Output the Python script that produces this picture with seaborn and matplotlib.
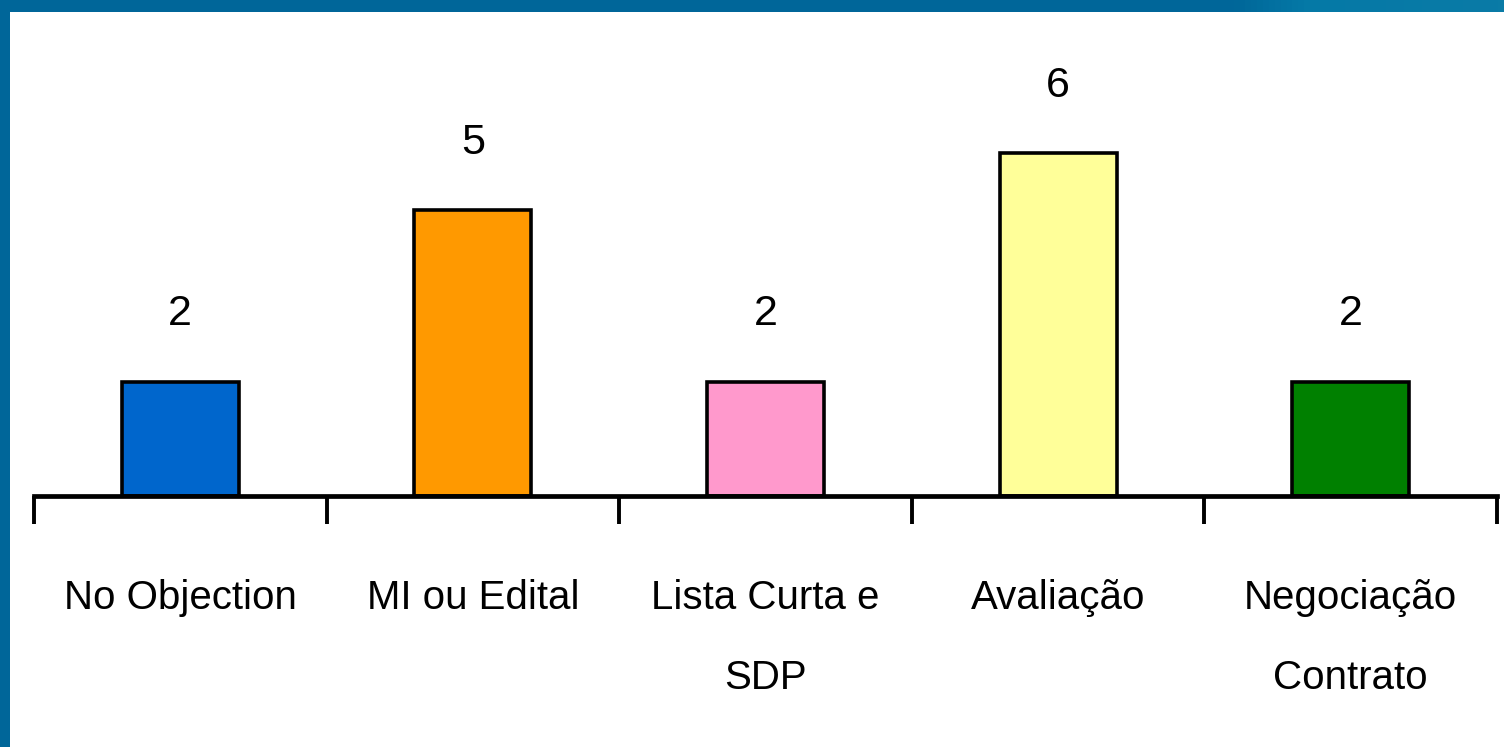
import numpy as np
import matplotlib
matplotlib.use("Agg")
import matplotlib.pyplot as plt
import seaborn as sns
import pandas as pd
from matplotlib.colors import LinearSegmentedColormap

categories = ["No Objection", "MI ou Edital", "Lista Curta e\nSDP", "Avaliação", "Negociação\nContrato"]
values = [2, 5, 2, 6, 2]
bar_colors = ["#0066CC", "#FF9900", "#FF99CC", "#FFFF99", "#008000"]

sns.set_theme(style="white")
FONT = ["Liberation Sans Narrow", "Liberation Sans", "DejaVu Sans"]
plt.rcParams["font.family"] = FONT

W, H, DPI = 1504, 747, 100
fig = plt.figure(figsize=(W / DPI, H / DPI), dpi=DPI)
fig.patch.set_facecolor("white")

# decorative frame: top band with gradient and left band
band = fig.add_axes([0, 1 - 12 / H, 1, 12 / H])
cmap = LinearSegmentedColormap.from_list(
    "band", [(0, "#006699"), (0.82, "#006699"), (0.87, "#0579A6"), (1, "#0A7BA6")])
band.imshow(np.linspace(0, 1, 256)[None, :], aspect="auto", cmap=cmap)
band.set_axis_off()
left = fig.add_axes([0, 0, 10 / W, 1 - 12 / H])
left.set_facecolor("#006699")
left.set_xticks([]); left.set_yticks([])
for s in left.spines.values():
    s.set_visible(False)

ax_bottom = (H - 496) / H
ax_top = (H - 12) / H
ax = fig.add_axes([34 / W, ax_bottom, (1497 - 34) / W, ax_top - ax_bottom])
ax.set_facecolor("none")

df = pd.DataFrame({"cat": categories, "val": values})
sns.barplot(data=df, x="cat", y="val", hue="cat", palette=bar_colors,
            width=0.4, edgecolor="black", linewidth=2.6, legend=False,
            saturation=1, ax=ax)

for cont in ax.containers:
    ax.bar_label(cont, labels=[f"{v:g}" for v in cont.datavalues],
                 padding=34, fontsize=31, color="black")

ax.set_xlim(-0.5, len(categories) - 0.5)
ax.set_ylim(0, 484 / 57.2)
ax.set_xlabel("")
ax.set_ylabel("")
ax.set_yticks([])
for s in ["top", "right", "left"]:
    ax.spines[s].set_visible(False)
ax.spines["bottom"].set_linewidth(3.4)
ax.spines["bottom"].set_color("black")

ax.set_xticks(range(len(categories)))
ax.set_xticklabels(categories, fontsize=29, linespacing=2.4, color="black")
ax.set_xticks(np.arange(-0.5, len(categories)), minor=True)
ax.tick_params(axis="x", which="major", length=0, pad=60, labelcolor="black")
ax.tick_params(axis="x", which="minor", length=20, width=2.8, color="black",
               direction="out", bottom=True)

fig.savefig("out.png", dpi=DPI)
